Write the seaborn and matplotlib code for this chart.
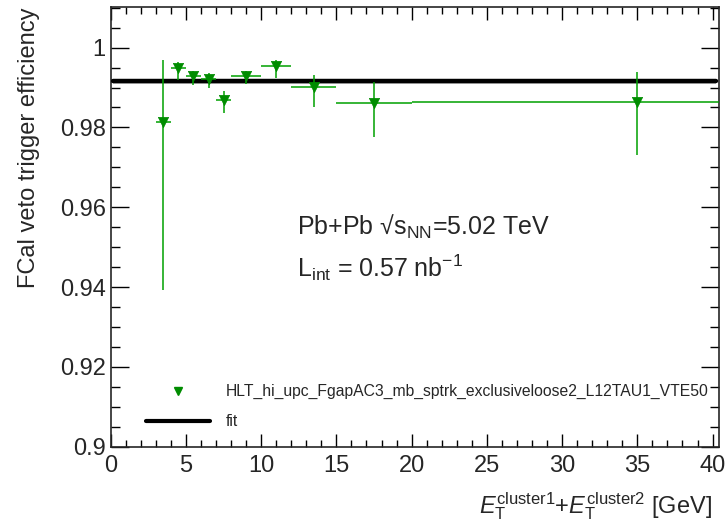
import numpy as np
import matplotlib
matplotlib.use('Agg')
import matplotlib.pyplot as plt
import seaborn as sns
from matplotlib.lines import Line2D
from matplotlib.ticker import MultipleLocator

# data
et_sum = [3.5, 4.5, 5.5, 6.5, 7.5, 9, 11, 13.5, 17.5, 35]
et_halfwidth = [0.5, 0.5, 0.5, 0.5, 0.5, 1, 1, 1.5, 2.5, 15]
eff = [0.9813, 0.9948, 0.9928, 0.9922, 0.9869, 0.9930, 0.9955, 0.9901, 0.9861, 0.9863]
err_up = [0.0156, 0.0017, 0.0014, 0.0014, 0.0023, 0.0012, 0.0014, 0.0031, 0.0054, 0.0075]
err_down = [0.0420, 0.0029, 0.0021, 0.0024, 0.0032, 0.0022, 0.0030, 0.0051, 0.0086, 0.0132]
fit_value = 0.9916
fit_err = 0.0006
fit_range = [0.17, 40.2]

trigger = 'HLT_hi_upc_FgapAC3_mb_sptrk_exclusiveloose2_L12TAU1_VTE50'
green = '#00a000'

sns.set_style('ticks')
plt.rcParams['font.family'] = ['Liberation Sans', 'DejaVu Sans']
plt.rcParams['mathtext.fontset'] = 'custom'
plt.rcParams['mathtext.rm'] = 'Liberation Sans'
plt.rcParams['mathtext.it'] = 'Liberation Sans:italic'

fig = plt.figure(figsize=(7.26, 5.27), dpi=100)
ax = fig.add_axes([0.1525, 0.1524, 0.8383, 0.8337])

# fit with its band
ax.fill_between(fit_range, fit_value - fit_err, fit_value + fit_err, color='#bbbbbb', lw=0, zorder=2)
sns.lineplot(x=fit_range, y=[fit_value, fit_value], color='black', lw=3.2, ax=ax, zorder=3)

# efficiency points
ax.errorbar(et_sum, eff, xerr=et_halfwidth, yerr=[err_down, err_up], fmt='none',
            ecolor=green, elinewidth=1.1, capsize=0, zorder=4)
sns.scatterplot(x=et_sum, y=eff, marker='v', s=55, color='#008c00', edgecolor='#008c00',
                linewidth=0.5, ax=ax, zorder=5)

ax.set_xlim(0, 40.45)
ax.set_ylim(0.9, 1.0101)
ax.xaxis.set_major_locator(MultipleLocator(5))
ax.xaxis.set_minor_locator(MultipleLocator(1))
ax.yaxis.set_minor_locator(MultipleLocator(0.005))
ax.set_yticks([0.9, 0.92, 0.94, 0.96, 0.98, 1.0])
ax.set_yticklabels(['0.9', '0.92', '0.94', '0.96', '0.98', '1'])
ax.tick_params(which='both', direction='in', top=True, right=True, width=1, labelsize=17, color='black')
ax.tick_params(axis='y', which='major', length=13)
ax.tick_params(axis='y', which='minor', length=6.5)
ax.tick_params(axis='x', which='major', length=9.5, pad=6)
ax.tick_params(axis='x', which='minor', length=5)
for sp in ax.spines.values():
    sp.set_linewidth(1.2)

ax.set_ylabel('FCal veto trigger efficiency', fontsize=17, loc='top', labelpad=14)
ax.set_xlabel(r'$E_{\mathrm{T}}^{\mathrm{cluster1}}$+$E_{\mathrm{T}}^{\mathrm{cluster2}}$ [GeV]',
              fontsize=17, ha='right')
ax.xaxis.set_label_coords(0.988, -0.1)

ax.text(0.306, 0.50, 'Pb+Pb √$\\mathregular{s_{NN}}$=5.02 TeV', transform=ax.transAxes,
        fontsize=18, va='center')
ax.text(0.306, 0.407, 'L$_{\\mathregular{int}}$ = 0.57 nb$^{\\mathregular{-1}}$', transform=ax.transAxes,
        fontsize=18, va='center')

handles = [Line2D([], [], marker='v', color='#008c00', ls='none', markersize=6),
           Line2D([], [], color='black', lw=3)]
ax.legend(handles, [trigger, 'fit'], loc='lower left', bbox_to_anchor=(0.035, 0.008),
          frameon=False, fontsize=11.3, handlelength=4.1, handletextpad=1.0, labelspacing=0.95)

sns.despine(ax=ax, top=False, right=False)
fig.savefig('out.png', dpi=100)
